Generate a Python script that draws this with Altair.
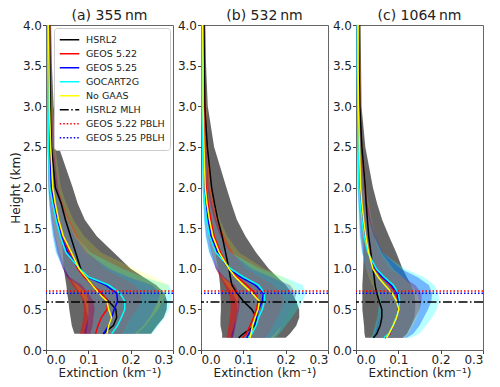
import altair as alt
import pandas as pd

# ---------------- data ----------------
H_A = [0.2, 0.3, 0.4, 0.5, 0.6, 0.7, 0.8, 0.9, 1.0, 1.2, 1.4, 1.6, 1.8, 2.0, 2.5, 3.0, 3.5, 4.0]
H_BC = [0.15, 0.2, 0.3, 0.4, 0.5, 0.6, 0.7, 0.8, 0.9, 1.0, 1.2, 1.4, 1.6, 1.8, 2.0, 2.5, 3.0, 3.5, 4.0]

SERIES = ["HSRL2", "GEOS 5.22", "GEOS 5.25", "GOCART2G", "No GAAS"]
HLINES = ["HSRL2 MLH", "GEOS 5.22 PBLH", "GEOS 5.25 PBLH"]
HLINE_HEIGHTS = [0.59, 0.725, 0.70]

PANEL_TITLES = ["(a) 355\u2009nm", "(b) 532\u2009nm", "(c) 1064\u2009nm"]

# panel (a) 355 nm
A_MEAN = {
    "HSRL2":     [0.135, 0.159, 0.167, 0.165, 0.148, 0.128, 0.109, 0.094, 0.082, 0.070, 0.058, 0.046, 0.036, 0.022, 0.013, 0.010, 0.009, 0.008],
    "GEOS 5.22": [0.117, 0.123, 0.131, 0.144, 0.146, 0.132, 0.109, 0.090, 0.075, 0.055, 0.040, 0.030, 0.020, 0.013, 0.009, 0.007, 0.006, 0.005],
    "GEOS 5.25": [0.136, 0.148, 0.155, 0.161, 0.169, 0.167, 0.140, 0.098, 0.078, 0.051, 0.036, 0.026, 0.018, 0.012, 0.008, 0.006, 0.005, 0.005],
    "GOCART2G":  [0.155, 0.169, 0.178, 0.186, 0.186, 0.175, 0.148, 0.100, 0.080, 0.047, 0.034, 0.024, 0.016, 0.009, 0.006, 0.005, 0.004, 0.004],
    "No GAAS":   [0.144, 0.148, 0.155, 0.148, 0.144, 0.125, 0.109, 0.094, 0.078, 0.060, 0.041, 0.030, 0.022, 0.016, 0.011, 0.008, 0.007, 0.006],
}
A_LO = {
    "HSRL2":     [0.067, 0.061, 0.058, 0.055, 0.053, 0.050, 0.048, 0.045, 0.042, 0.040, 0.036, 0.030, 0.022, 0.015, 0.008, 0.006, 0.005, 0.004],
    "GEOS 5.22": [0.080, 0.085, 0.088, 0.090, 0.088, 0.078, 0.062, 0.050, 0.040, 0.028, 0.020, 0.014, 0.010, 0.006, 0.004, 0.003, 0.003, 0.002],
    "GEOS 5.25": [0.090, 0.095, 0.100, 0.100, 0.100, 0.095, 0.075, 0.050, 0.040, 0.025, 0.017, 0.012, 0.008, 0.006, 0.004, 0.003, 0.003, 0.002],
    "GOCART2G":  [0.105, 0.110, 0.112, 0.115, 0.112, 0.100, 0.085, 0.055, 0.042, 0.022, 0.015, 0.010, 0.007, 0.004, 0.003, 0.002, 0.002, 0.002],
    "No GAAS":   [0.095, 0.098, 0.100, 0.095, 0.092, 0.080, 0.068, 0.055, 0.045, 0.032, 0.022, 0.016, 0.011, 0.008, 0.005, 0.004, 0.003, 0.003],
}
A_HI = {
    "HSRL2":     [0.248, 0.262, 0.278, 0.285, 0.286, 0.280, 0.260, 0.230, 0.200, 0.160, 0.120, 0.092, 0.075, 0.063, 0.030, 0.018, 0.014, 0.012],
    "GEOS 5.22": [0.180, 0.190, 0.200, 0.215, 0.225, 0.225, 0.210, 0.175, 0.140, 0.100, 0.075, 0.055, 0.040, 0.028, 0.018, 0.014, 0.012, 0.011],
    "GEOS 5.25": [0.210, 0.230, 0.245, 0.255, 0.265, 0.270, 0.250, 0.195, 0.150, 0.095, 0.068, 0.050, 0.038, 0.028, 0.018, 0.014, 0.012, 0.010],
    "GOCART2G":  [0.250, 0.265, 0.280, 0.290, 0.295, 0.298, 0.290, 0.230, 0.180, 0.105, 0.072, 0.052, 0.036, 0.024, 0.016, 0.012, 0.010, 0.009],
    "No GAAS":   [0.215, 0.235, 0.250, 0.265, 0.275, 0.285, 0.290, 0.255, 0.210, 0.130, 0.090, 0.065, 0.048, 0.035, 0.022, 0.016, 0.013, 0.012],
}

# panel (b) 532 nm
B_MEAN = {
    "HSRL2":     [0.089, 0.100, 0.128, 0.131, 0.120, 0.100, 0.085, 0.073, 0.069, 0.066, 0.058, 0.050, 0.040, 0.032, 0.025, 0.015, 0.009, 0.008, 0.007],
    "GEOS 5.22": [0.098, 0.107, 0.116, 0.124, 0.131, 0.135, 0.128, 0.108, 0.085, 0.066, 0.046, 0.031, 0.023, 0.017, 0.012, 0.008, 0.006, 0.005, 0.005],
    "GEOS 5.25": [0.108, 0.113, 0.124, 0.131, 0.136, 0.145, 0.147, 0.128, 0.093, 0.066, 0.039, 0.024, 0.017, 0.012, 0.008, 0.006, 0.005, 0.004, 0.004],
    "GOCART2G":  [0.112, 0.120, 0.130, 0.136, 0.145, 0.150, 0.150, 0.136, 0.100, 0.070, 0.035, 0.020, 0.013, 0.009, 0.006, 0.004, 0.003, 0.003, 0.003],
    "No GAAS":   [0.116, 0.118, 0.122, 0.128, 0.135, 0.138, 0.121, 0.100, 0.081, 0.066, 0.043, 0.028, 0.020, 0.014, 0.010, 0.007, 0.005, 0.005, 0.004],
}
B_LO = {
    "HSRL2":     [0.050, 0.050, 0.046, 0.046, 0.047, 0.047, 0.046, 0.045, 0.043, 0.040, 0.034, 0.026, 0.018, 0.013, 0.010, 0.006, 0.004, 0.004, 0.003],
    "GEOS 5.22": [0.060, 0.062, 0.065, 0.068, 0.070, 0.070, 0.065, 0.055, 0.045, 0.035, 0.025, 0.017, 0.012, 0.009, 0.006, 0.004, 0.003, 0.003, 0.002],
    "GEOS 5.25": [0.070, 0.072, 0.078, 0.082, 0.085, 0.088, 0.088, 0.075, 0.050, 0.035, 0.020, 0.012, 0.008, 0.006, 0.004, 0.003, 0.003, 0.002, 0.002],
    "GOCART2G":  [0.075, 0.078, 0.082, 0.086, 0.090, 0.092, 0.090, 0.080, 0.055, 0.038, 0.018, 0.010, 0.007, 0.005, 0.003, 0.002, 0.002, 0.002, 0.002],
    "No GAAS":   [0.075, 0.077, 0.080, 0.082, 0.085, 0.085, 0.075, 0.060, 0.048, 0.040, 0.026, 0.016, 0.011, 0.008, 0.006, 0.004, 0.003, 0.003, 0.002],
}
B_HI = {
    "HSRL2":     [0.200, 0.210, 0.225, 0.232, 0.232, 0.225, 0.215, 0.200, 0.180, 0.160, 0.130, 0.105, 0.085, 0.072, 0.060, 0.031, 0.016, 0.012, 0.010],
    "GEOS 5.22": [0.150, 0.160, 0.170, 0.180, 0.190, 0.195, 0.190, 0.170, 0.140, 0.105, 0.075, 0.055, 0.040, 0.030, 0.022, 0.015, 0.012, 0.011, 0.010],
    "GEOS 5.25": [0.165, 0.175, 0.190, 0.200, 0.210, 0.220, 0.225, 0.210, 0.165, 0.120, 0.070, 0.048, 0.036, 0.026, 0.018, 0.013, 0.011, 0.010, 0.009],
    "GOCART2G":  [0.175, 0.185, 0.200, 0.215, 0.228, 0.240, 0.248, 0.240, 0.195, 0.140, 0.070, 0.045, 0.032, 0.022, 0.015, 0.011, 0.009, 0.008, 0.008],
    "No GAAS":   [0.170, 0.180, 0.190, 0.200, 0.210, 0.220, 0.225, 0.220, 0.195, 0.150, 0.090, 0.062, 0.045, 0.034, 0.025, 0.017, 0.013, 0.012, 0.011],
}

# panel (c) 1064 nm
C_MEAN = {
    "HSRL2":     [0.041, 0.049, 0.057, 0.061, 0.061, 0.055, 0.049, 0.045, 0.043, 0.040, 0.035, 0.030, 0.027, 0.024, 0.022, 0.014, 0.009, 0.007, 0.006],
    "GEOS 5.22": [0.069, 0.080, 0.088, 0.096, 0.100, 0.100, 0.094, 0.080, 0.060, 0.045, 0.030, 0.023, 0.018, 0.014, 0.011, 0.007, 0.005, 0.004, 0.004],
    "GEOS 5.25": [0.068, 0.079, 0.088, 0.096, 0.100, 0.101, 0.097, 0.083, 0.062, 0.046, 0.029, 0.021, 0.016, 0.012, 0.009, 0.006, 0.005, 0.004, 0.004],
    "GOCART2G":  [0.066, 0.078, 0.087, 0.095, 0.101, 0.103, 0.100, 0.088, 0.066, 0.048, 0.028, 0.019, 0.014, 0.010, 0.007, 0.005, 0.004, 0.003, 0.003],
    "No GAAS":   [0.072, 0.078, 0.088, 0.096, 0.101, 0.096, 0.085, 0.068, 0.052, 0.040, 0.030, 0.023, 0.018, 0.014, 0.011, 0.008, 0.006, 0.005, 0.005],
}
C_LO = {
    "HSRL2":     [0.022, 0.020, 0.019, 0.017, 0.015, 0.015, 0.015, 0.015, 0.016, 0.017, 0.018, 0.018, 0.015, 0.012, 0.010, 0.006, 0.004, 0.003, 0.003],
    "GEOS 5.22": [0.045, 0.050, 0.055, 0.058, 0.060, 0.060, 0.055, 0.045, 0.035, 0.026, 0.017, 0.013, 0.010, 0.008, 0.006, 0.004, 0.003, 0.003, 0.002],
    "GEOS 5.25": [0.040, 0.045, 0.050, 0.055, 0.058, 0.058, 0.055, 0.045, 0.035, 0.025, 0.015, 0.010, 0.008, 0.006, 0.004, 0.003, 0.002, 0.002, 0.002],
    "GOCART2G":  [0.035, 0.040, 0.045, 0.050, 0.053, 0.055, 0.052, 0.045, 0.035, 0.025, 0.013, 0.008, 0.006, 0.005, 0.003, 0.002, 0.002, 0.002, 0.002],
    "No GAAS":   [0.045, 0.048, 0.052, 0.056, 0.058, 0.055, 0.048, 0.038, 0.030, 0.024, 0.018, 0.013, 0.010, 0.008, 0.006, 0.004, 0.003, 0.003, 0.002],
}
C_HI = {
    "HSRL2":     [0.110, 0.120, 0.130, 0.138, 0.140, 0.140, 0.138, 0.130, 0.120, 0.110, 0.095, 0.078, 0.062, 0.050, 0.040, 0.022, 0.013, 0.012, 0.011],
    "GEOS 5.22": [0.110, 0.120, 0.130, 0.140, 0.150, 0.155, 0.155, 0.140, 0.110, 0.080, 0.055, 0.042, 0.034, 0.028, 0.022, 0.015, 0.011, 0.010, 0.009],
    "GEOS 5.25": [0.120, 0.135, 0.150, 0.160, 0.170, 0.178, 0.180, 0.172, 0.145, 0.105, 0.062, 0.046, 0.035, 0.027, 0.020, 0.013, 0.010, 0.009, 0.008],
    "GOCART2G":  [0.130, 0.150, 0.165, 0.180, 0.190, 0.196, 0.195, 0.185, 0.160, 0.115, 0.062, 0.042, 0.031, 0.024, 0.017, 0.011, 0.009, 0.008, 0.007],
    "No GAAS":   [0.115, 0.125, 0.135, 0.145, 0.150, 0.150, 0.145, 0.130, 0.110, 0.088, 0.060, 0.046, 0.037, 0.030, 0.024, 0.016, 0.012, 0.010, 0.009],
}

# ---------------- styling ----------------
LINE_COLORS = ["#000000", "#ff0000", "#0000ff", "#00ffff", "#ffff00",
               "#000000", "#ff0000", "#0000ff"]
LINE_DASHES = [[1, 0], [1, 0], [1, 0], [1, 0], [1, 0],
               [9, 2.5, 1.5, 2.5], [1.5, 2], [1.5, 2]]
BAND_COLORS = ["#000000", "#ff0000", "#0000ff", "#00ffff", "#ffff00"]
BAND_OPACITY = [0.6, 0.17, 0.2, 0.22, 0.25]
FONT = "DejaVu Sans"

panels = [(H_A, A_MEAN, A_LO, A_HI), (H_BC, B_MEAN, B_LO, B_HI), (H_BC, C_MEAN, C_LO, C_HI)]

rules_df = pd.DataFrame({"series": HLINES, "h": HLINE_HEIGHTS})

color_scale = alt.Scale(domain=SERIES + HLINES, range=LINE_COLORS)
dash_scale = alt.Scale(domain=SERIES + HLINES, range=LINE_DASHES)
x_scale = alt.Scale(domain=[0, 0.3], nice=False)
y_scale = alt.Scale(domain=[0, 4], nice=False)

legend = alt.Legend(orient="none", legendX=8, legendY=3, symbolType="stroke",
                    symbolSize=380, symbolStrokeWidth=1.5, labelFontSize=9.5,
                    labelFont=FONT, labelColor="#222", fillColor="white",
                    strokeColor="#cccccc", cornerRadius=3, padding=5,
                    rowPadding=0, clipHeight=13.4, labelOffset=6, title=None)


def make_panel(i):
    H, MEAN, LO, HI = panels[i]
    rows = []
    for s in SERIES:
        for h, m, lo, hi in zip(H, MEAN[s], LO[s], HI[s]):
            rows.append({"series": s, "h": h, "mean": m, "lo": lo, "hi": hi})
    df = pd.DataFrame(rows)

    yaxis_kw = dict(values=[0, 0.5, 1.0, 1.5, 2.0, 2.5, 3.0, 3.5, 4.0], format=".1f",
                    labelOverlap=False)
    if i == 0:
        yaxis_kw["title"] = "Height (km)"
    else:
        yaxis_kw["title"] = ""
    xaxis = alt.Axis(values=[0, 0.1, 0.2, 0.3], format=".1f", labelOverlap=False,
                     title="Extinction (km\u207b\u00b9)")

    base = alt.Chart(df)
    bands = base.mark_area(orient="horizontal", clip=True).encode(
        x=alt.X("lo:Q", scale=x_scale, axis=xaxis),
        x2="hi:Q",
        y=alt.Y("h:Q", scale=y_scale, axis=alt.Axis(**yaxis_kw)),
        fill=alt.Fill("series:N", scale=alt.Scale(domain=SERIES, range=BAND_COLORS), legend=None),
        fillOpacity=alt.FillOpacity("series:N", scale=alt.Scale(domain=SERIES, range=BAND_OPACITY), legend=None),
    )
    lines = base.mark_line(strokeWidth=1.5, clip=True).encode(
        x=alt.X("mean:Q", scale=x_scale),
        y=alt.Y("h:Q", scale=y_scale),
        order=alt.Order("h:Q"),
        color=alt.Color("series:N", scale=color_scale, legend=legend),
        strokeDash=alt.StrokeDash("series:N", scale=dash_scale, legend=legend),
    )
    rules = alt.Chart(rules_df).mark_rule(strokeWidth=1.5).encode(
        y=alt.Y("h:Q", scale=y_scale),
        color=alt.Color("series:N", scale=color_scale, legend=legend),
        strokeDash=alt.StrokeDash("series:N", scale=dash_scale, legend=legend),
    )
    return alt.layer(bands, lines, rules).properties(
        width=127, height=325, title=PANEL_TITLES[i]
    )


chart = alt.hconcat(make_panel(0), make_panel(1), make_panel(2),
                    spacing=28, bounds="flush").properties(
    padding={"left": 0, "top": 0, "right": 0, "bottom": 0}
).configure_view(
    stroke="#666666", strokeWidth=1
).configure_axis(
    grid=False, domain=False, tickSize=3.5, tickColor="#444444",
    labelFont=FONT, labelFontSize=12, labelColor="#222222",
    titleFont=FONT, titleFontSize=12, titleFontWeight="normal", titleColor="#222222",
    labelPadding=1, titlePadding=2,
).configure_axisY(
    titlePadding=0
).configure_title(
    font=FONT, fontSize=14, fontWeight="normal", color="#222222", offset=-3.5
)

chart.save("out.html", embed_options={"renderer": "svg", "actions": False})
